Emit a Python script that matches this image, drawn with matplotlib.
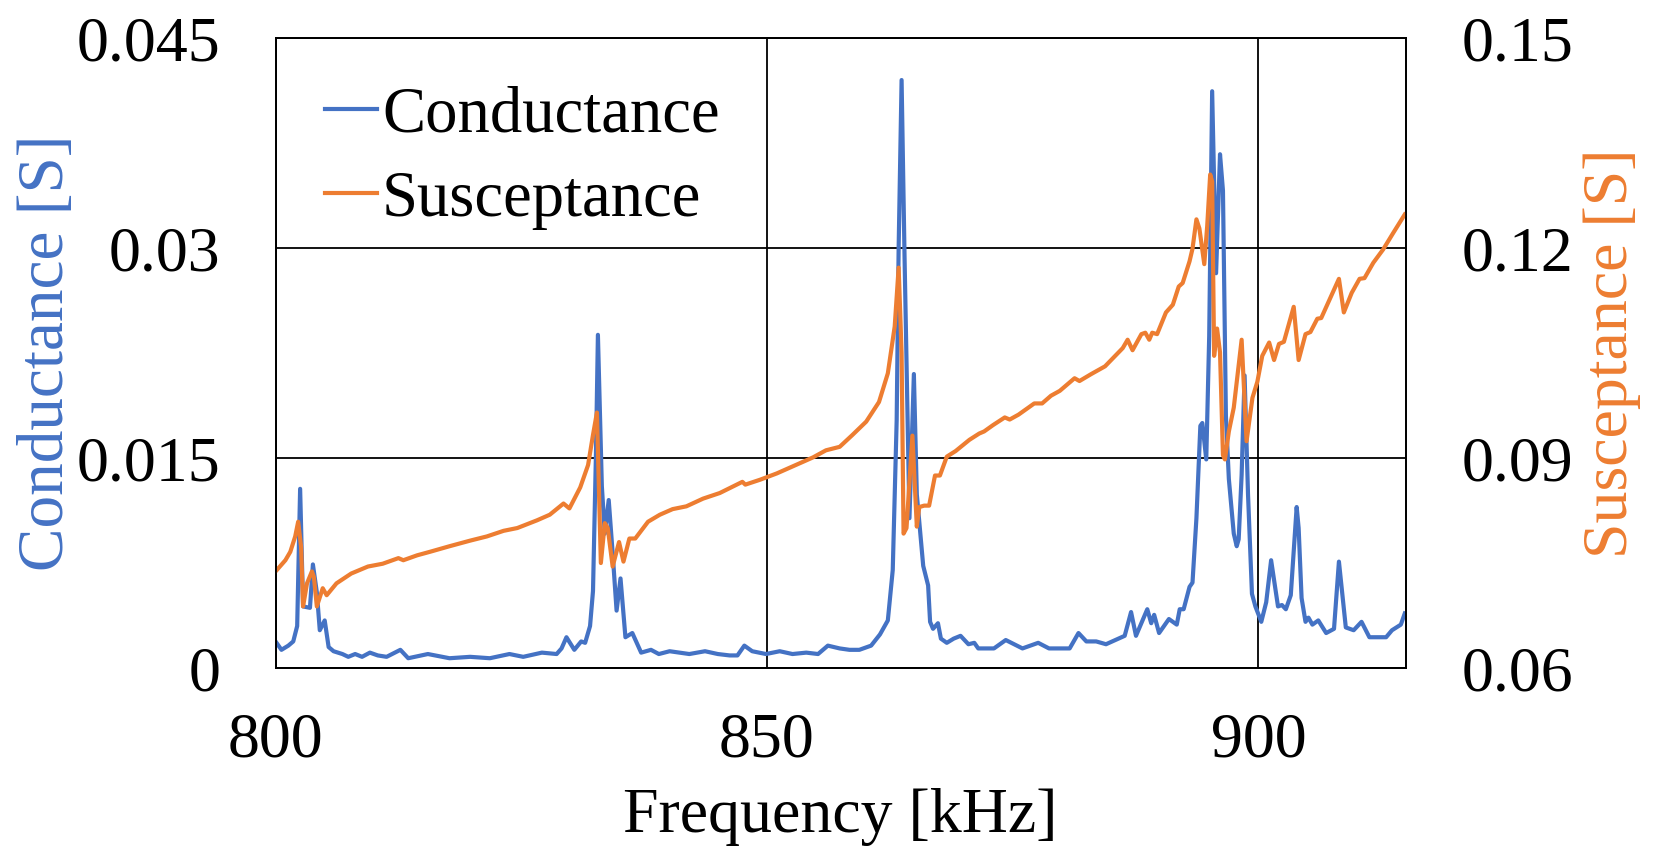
import numpy as np
import matplotlib
matplotlib.use("Agg")
import matplotlib.pyplot as plt

# conductance trace
freq_g = [800.0, 800.6, 801.3, 801.8, 802.2, 802.5, 802.8, 803.5, 803.8, 804.2,
          804.5, 805.0, 805.4, 805.9, 806.8, 807.4, 808.1, 808.8, 809.6, 810.4,
          811.3, 812.7, 813.5, 815.5, 817.7, 819.8, 821.8, 823.8, 825.2, 827.1,
          828.6, 829.1, 829.6, 830.4, 831.1, 831.5, 832.0, 832.3, 832.6, 832.8,
          833.2, 833.5, 833.9, 834.3, 834.7, 835.1, 835.6, 836.3, 837.2, 838.2,
          839.0, 840.1, 842.1, 843.7, 845.0, 846.2, 847.0, 847.7, 848.5, 849.9,
          851.3, 852.6, 854.0, 855.2, 856.2, 857.4, 858.4, 859.4, 860.6, 861.5,
          862.3, 862.8, 863.2, 863.4, 863.7, 864.0, 864.5, 864.95, 865.25, 865.9,
          866.4, 866.6, 866.9, 867.4, 867.7, 868.3, 869.0, 869.7, 870.5, 871.1,
          871.5, 872.3, 873.1, 874.3, 876.0, 877.6, 878.7, 880.8, 881.7, 882.5,
          883.5, 884.5, 886.4, 887.05, 887.55, 888.7, 889.1, 889.4, 889.9, 890.9,
          891.7, 892.0, 892.4, 893.0, 893.3, 893.7, 894.1, 894.3, 894.7, 895.0,
          895.3, 895.7, 896.1, 896.4, 896.7, 897.0, 897.5, 897.8, 898.0, 898.3,
          898.6, 898.95, 899.35, 899.7, 900.3, 900.8, 901.3, 902.0, 902.4, 902.8,
          903.3, 903.6, 903.9, 904.1, 904.4, 904.8, 905.1, 905.5, 906.1, 906.9,
          907.7, 908.2, 908.9, 909.7, 910.5, 911.3, 913.0, 913.6, 914.5, 914.9]
conductance = [0.0019, 0.0013, 0.0016, 0.0019, 0.0030, 0.0128, 0.0044, 0.0043, 0.0074, 0.0054,
               0.0027, 0.0034, 0.0015, 0.0012, 0.0010, 0.0008, 0.0010, 0.0008, 0.0011, 0.0009,
               0.0008, 0.0013, 0.0007, 0.0010, 0.0007, 0.0008, 0.0007, 0.0010, 0.0008, 0.0011,
               0.0010, 0.0014, 0.0022, 0.0013, 0.0019, 0.0018, 0.0030, 0.0055, 0.0153, 0.0238,
               0.0130, 0.0096, 0.0120, 0.0082, 0.0041, 0.0064, 0.0022, 0.0025, 0.0011, 0.0013,
               0.0010, 0.0012, 0.0010, 0.0012, 0.0010, 0.0009, 0.0009, 0.0016, 0.0012, 0.0010,
               0.0012, 0.0010, 0.0011, 0.0010, 0.0016, 0.0014, 0.0013, 0.0013, 0.0016, 0.0024,
               0.0034, 0.0070, 0.0177, 0.0300, 0.0420, 0.0294, 0.0107, 0.0210, 0.0124, 0.0073,
               0.0059, 0.0033, 0.0028, 0.0032, 0.0021, 0.0018, 0.0021, 0.0023, 0.0017, 0.0018,
               0.0014, 0.0014, 0.0014, 0.0020, 0.0014, 0.0018, 0.0014, 0.0014, 0.0025, 0.0019,
               0.0019, 0.0017, 0.0023, 0.0040, 0.0023, 0.0042, 0.0032, 0.0038, 0.0025, 0.0035,
               0.0031, 0.0042, 0.0042, 0.0058, 0.0061, 0.0107, 0.0173, 0.0175, 0.0149, 0.0237,
               0.0412, 0.0282, 0.0367, 0.0341, 0.0180, 0.0135, 0.0096, 0.0087, 0.0092, 0.0138,
               0.0209, 0.0124, 0.0053, 0.0044, 0.0033, 0.0047, 0.0077, 0.0044, 0.0045, 0.0042,
               0.0052, 0.0084, 0.0115, 0.0100, 0.0050, 0.0033, 0.0036, 0.0031, 0.0034, 0.0025,
               0.0028, 0.0076, 0.0029, 0.0027, 0.0033, 0.0022, 0.0022, 0.0027, 0.0031, 0.0039]

# susceptance trace
freq_b = [800.0, 801.0, 801.5, 802.0, 802.3, 802.6, 802.8, 803.2, 803.7, 803.9,
          804.2, 804.8, 805.2, 806.2, 807.7, 809.4, 810.9, 812.5, 813.0, 814.4,
          815.7, 817.7, 819.8, 821.5, 823.2, 824.6, 826.6, 827.9, 829.3, 829.9,
          831.0, 831.8, 832.3, 832.7, 833.1, 833.5, 833.8, 834.3, 834.95, 835.4,
          836.0, 836.6, 837.9, 839.1, 840.4, 841.8, 843.5, 845.2, 847.5, 847.8,
          849.3, 851.0, 852.6, 854.7, 856.0, 857.4, 858.7, 860.1, 861.4, 862.3,
          863.0, 863.4, 863.7, 863.9, 864.2, 864.8, 865.25, 865.5, 866.0, 866.5,
          867.1, 867.6, 868.3, 869.2, 870.6, 871.6, 872.1, 873.0, 874.2, 874.7,
          875.6, 877.2, 878.0, 878.9, 879.8, 881.3, 881.8, 883.0, 884.4, 886.2,
          886.7, 887.2, 888.1, 888.5, 888.9, 889.2, 889.7, 890.6, 891.3, 891.9,
          892.3, 893.0, 893.3, 893.7, 894.0, 894.5, 894.8, 895.1, 895.3, 895.5,
          895.8, 896.1, 896.4, 896.6, 897.0, 897.5, 898.3, 898.8, 899.4, 899.9,
          900.4, 901.1, 901.6, 902.1, 902.6, 903.2, 903.6, 904.1, 904.8, 905.3,
          906.0, 906.4, 907.3, 908.2, 908.7, 909.5, 910.3, 910.8, 911.7, 912.7,
          913.7, 914.9]
susceptance = [0.0738, 0.0754, 0.0766, 0.0788, 0.0809, 0.0773, 0.0688, 0.0721, 0.0738, 0.0730,
               0.0688, 0.0714, 0.0704, 0.0721, 0.0735, 0.0745, 0.0749, 0.0757, 0.0754, 0.0761,
               0.0766, 0.0774, 0.0782, 0.0788, 0.0796, 0.0800, 0.0811, 0.0819, 0.0835, 0.0828,
               0.0858, 0.0890, 0.0933, 0.0965, 0.0750, 0.0807, 0.0800, 0.0745, 0.0780, 0.0752,
               0.0785, 0.0785, 0.0809, 0.0819, 0.0827, 0.0831, 0.0842, 0.0850, 0.0866, 0.0862,
               0.0869, 0.0878, 0.0888, 0.0901, 0.0911, 0.0916, 0.0933, 0.0952, 0.0980, 0.1021,
               0.1088, 0.1172, 0.1050, 0.0792, 0.0800, 0.0932, 0.0802, 0.0830, 0.0832, 0.0832,
               0.0875, 0.0875, 0.0902, 0.0910, 0.0926, 0.0935, 0.0938, 0.0947, 0.0958, 0.0955,
               0.0962, 0.0978, 0.0978, 0.0989, 0.0996, 0.1014, 0.1010, 0.1020, 0.1031, 0.1057,
               0.1069, 0.1054, 0.1077, 0.1079, 0.1069, 0.1079, 0.1077, 0.1108, 0.1119, 0.1145,
               0.1150, 0.1181, 0.1199, 0.1241, 0.1228, 0.1177, 0.1232, 0.1305, 0.1295, 0.1046,
               0.1085, 0.1051, 0.0904, 0.0898, 0.0938, 0.0972, 0.1069, 0.0924, 0.0986, 0.1009,
               0.1046, 0.1065, 0.1040, 0.1063, 0.1066, 0.1096, 0.1116, 0.1040, 0.1077, 0.1080,
               0.1099, 0.1100, 0.1128, 0.1156, 0.1108, 0.1136, 0.1156, 0.1157, 0.1179, 0.1198,
               0.1221, 0.1248]

x_ticks = [800, 850, 900]
g_ticks = [0, 0.015, 0.03, 0.045]
g_labels = ["0", "0.015", "0.03", "0.045"]
b_ticks = [0.06, 0.09, 0.12, 0.15]
b_labels = ["0.06", "0.09", "0.12", "0.15"]

blue = "#4472C4"
orange = "#ED7D31"

plt.rcParams["font.family"] = "serif"
plt.rcParams["font.serif"] = ["Liberation Serif", "DejaVu Serif"]

fig = plt.figure(figsize=(16.55, 8.47), dpi=100)
ax = fig.add_axes([0.1665, 0.2113, 0.6829, 0.7438])
ax2 = ax.twinx()

l1, = ax.plot(freq_g, conductance, color=blue, lw=3.0, label="Conductance")
l2, = ax2.plot(freq_b, susceptance, color=orange, lw=3.0, label="Susceptance")

ax.set_xlim(800, 915)
ax.set_ylim(0, 0.045)
ax2.set_ylim(0.06, 0.15)

ax.set_xticks(x_ticks)
ax.set_yticks(g_ticks)
ax.set_yticklabels(g_labels)
ax2.set_yticks(b_ticks)
ax2.set_yticklabels(b_labels)

# excel style: black grid, no tick marks
ax.grid(True, color="black", lw=1.3)
ax.set_axisbelow(True)
ax.tick_params(axis="both", length=0, labelsize=46)
ax.tick_params(axis="y", pad=40)
ax.tick_params(axis="x", pad=32)
ax2.tick_params(axis="y", length=0, labelsize=46, pad=40)
for sp in list(ax.spines.values()) + list(ax2.spines.values()):
    sp.set_color("black")
    sp.set_linewidth(1.3)

ax.set_xlabel("Frequency [kHz]", fontsize=46)
ax.set_ylabel("Conductance [S]", fontsize=47, color=blue)
ax2.set_ylabel("Susceptance [S]", fontsize=46, color=orange)
ax.xaxis.set_label_coords(0.5, -0.19)
ax.yaxis.set_label_coords(-0.176, 0.5)
ax2.yaxis.set_label_coords(1.157, 0.5)

ax2.legend([l1, l2], ["Conductance", "Susceptance"], loc="upper left",
           bbox_to_anchor=(0.021, 0.965), frameon=False, fontsize=46.5,
           handlelength=0.8, handletextpad=0.08, labelspacing=0.39,
           borderaxespad=0)

fig.savefig("out.png", dpi=100)
